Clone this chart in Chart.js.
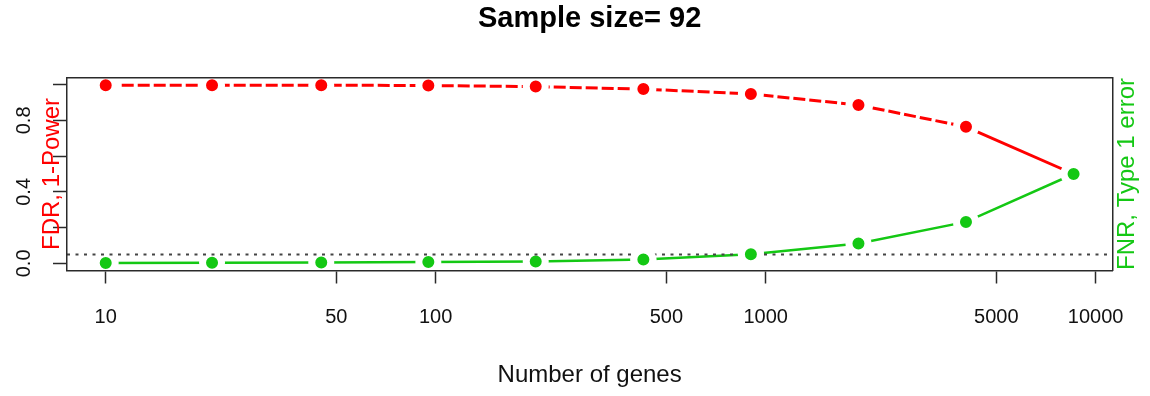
<!DOCTYPE html>
<html>
<head>
<meta charset="utf-8">
<script src="https://cdn.jsdelivr.net/npm/chart.js@4/dist/chart.umd.min.js"></script>
<style>
html, body { margin: 0; padding: 0; background: #ffffff; }
canvas { display: block; }
</style>
</head>
<body>
<canvas id="chart" width="1150" height="396"></canvas>
<script>
// ---- data ----
const genes = [10, 21, 45, 95, 201, 426, 902, 1911, 4047, 8575];
const fdrPower = [0.997, 0.997, 0.997, 0.995, 0.989, 0.975, 0.948, 0.886, 0.764, 0.500];
const fnrType1 = [0.002, 0.003, 0.005, 0.008, 0.011, 0.022, 0.051, 0.111, 0.232, 0.500];
const alphaLevel = 0.05;
const xTickValues = [10, 50, 100, 500, 1000, 5000, 10000];
const xTickLabels = ['10', '50', '100', '500', '1000', '5000', '10000'];
const yTickValues = [0, 0.2, 0.4, 0.6, 0.8, 1.0];
const yTickLabels = ['0.0', '', '0.4', '', '0.8', ''];
const titleText = 'Sample size= 92';
const xTitle = 'Number of genes';
const yTitleLeft = 'FDR, 1-Power';
const yTitleRight = 'FNR, Type 1 error';

// ---- styling ----
const RED = '#ff0000';
const GREEN = '#14c814';
const AXIS = '#2a2a2a';
Chart.defaults.font.family = "'Liberation Sans', Arial, Helvetica, sans-serif";

// R-style 4% axis expansion
const lx0 = Math.log10(Math.min(...genes)), lx1 = Math.log10(Math.max(...genes));
const xMin = Math.pow(10, lx0 - 0.04 * (lx1 - lx0));
const xMax = Math.pow(10, lx1 + 0.04 * (lx1 - lx0));
const yMin = 0 - 0.04, yMax = 1 + 0.04;

const pointStyle = { pointRadius: 9.5, pointHoverRadius: 9.5, pointBorderWidth: 7, pointBorderColor: '#ffffff' };

const extras = {
  id: 'extras',
  afterDatasetsDraw(chart) {
    const { ctx, chartArea, scales } = chart;
    const y = scales.y.getPixelForValue(alphaLevel);
    ctx.save();
    ctx.beginPath();
    ctx.rect(chartArea.left, chartArea.top, chartArea.right - chartArea.left, chartArea.bottom - chartArea.top);
    ctx.clip();
    ctx.strokeStyle = '#444444';
    ctx.lineWidth = 2;
    ctx.setLineDash([3, 5.5]);
    ctx.beginPath();
    ctx.moveTo(chartArea.left, y);
    ctx.lineTo(chartArea.right, y);
    ctx.stroke();
    ctx.setLineDash([]);
    // points lying on the reference line sit on top of it
    chart.getDatasetMeta(0).data.forEach(p => {
      if (Math.abs(p.y - y) < 6) p.draw(ctx, chartArea);
    });
    ctx.restore();
  },
  afterDraw(chart) {
    const { ctx, chartArea } = chart;
    ctx.save();
    ctx.translate(chartArea.right + 15, (chartArea.top + chartArea.bottom) / 2);
    ctx.rotate(-Math.PI / 2);
    ctx.font = "24px 'Liberation Sans', Arial, sans-serif";
    ctx.fillStyle = GREEN;
    ctx.textAlign = 'center';
    ctx.textBaseline = 'middle';
    ctx.fillText(yTitleRight, 0, 0);
    ctx.restore();
  }
};

new Chart(document.getElementById('chart'), {
  type: 'line',
  data: {
    datasets: [
      {
        label: yTitleRight,
        data: genes.map((g, i) => ({ x: g, y: fnrType1[i] })),
        borderColor: GREEN,
        backgroundColor: GREEN,
        pointBackgroundColor: GREEN,
        borderWidth: 2.5,
        tension: 0,
        ...pointStyle
      },
      {
        label: yTitleLeft,
        data: genes.map((g, i) => ({ x: g, y: fdrPower[i] })),
        borderColor: RED,
        backgroundColor: RED,
        pointBackgroundColor: RED,
        borderWidth: 3,
        borderDash: [12, 4],
        segment: {
          borderDash: ctx => ctx.p1DataIndex === genes.length - 1 ? [] : [12, 4]
        },
        tension: 0,
        ...pointStyle
      }
    ]
  },
  options: {
    responsive: false,
    animation: false,
    devicePixelRatio: 1,
    events: [],
    layout: { padding: 0 },
    plugins: {
      legend: { display: false },
      tooltip: { enabled: false },
      title: {
        display: true,
        text: titleText,
        fullSize: false,
        color: '#000000',
        font: { size: 29, weight: 'bold' },
        padding: { top: 1.5, bottom: 41.2 }
      }
    },
    scales: {
      x: {
        type: 'logarithmic',
        position: 'bottom',
        min: xMin,
        max: xMax,
        afterBuildTicks: s => { s.ticks = xTickValues.map(v => ({ value: v })); },
        afterFit: s => { s.height = 125.5; },
        ticks: {
          autoSkip: false, minRotation: 0, maxRotation: 0, padding: 22,
          font: { size: 20 }, color: '#111111',
          callback: (v, i) => xTickLabels[i]
        },
        grid: { display: true, drawOnChartArea: false, drawTicks: true, tickLength: 13, tickColor: AXIS, tickWidth: 1.5 },
        border: { display: true, color: AXIS, width: 1.5, z: 1 },
        title: { display: true, text: xTitle, color: '#111111', font: { size: 24 }, padding: { top: 0, bottom: 6 } }
      },
      y: {
        type: 'linear',
        position: 'left',
        min: yMin,
        max: yMax,
        afterBuildTicks: s => { s.ticks = yTickValues.map(v => ({ value: v })); },
        afterFit: s => { s.width = 67; },
        ticks: {
          autoSkip: false, minRotation: 90, maxRotation: 90, crossAlign: 'center', padding: 15,
          font: { size: 20 }, color: '#111111',
          callback: (v, i) => yTickLabels[i]
        },
        grid: { display: true, drawOnChartArea: false, drawTicks: true, tickLength: 14, tickColor: AXIS, tickWidth: 1.5 },
        border: { display: true, color: AXIS, width: 1.5, z: 1 },
        title: { display: true, text: yTitleLeft, color: RED, font: { size: 24 }, padding: { top: 37.8, bottom: 0 } }
      },
      x2: {
        type: 'linear', position: 'top', min: 0, max: 1, display: true,
        afterFit: s => { s.height = 0; },
        ticks: { display: false },
        grid: { display: false },
        border: { display: true, color: AXIS, width: 1.5, z: 1 }
      },
      y2: {
        type: 'linear', position: 'right', min: 0, max: 1, display: true,
        afterFit: s => { s.width = 37.7; },
        ticks: { display: false },
        grid: { display: false },
        border: { display: true, color: AXIS, width: 1.5, z: 1 }
      }
    }
  },
  plugins: [extras]
});
</script>
</body>
</html>
